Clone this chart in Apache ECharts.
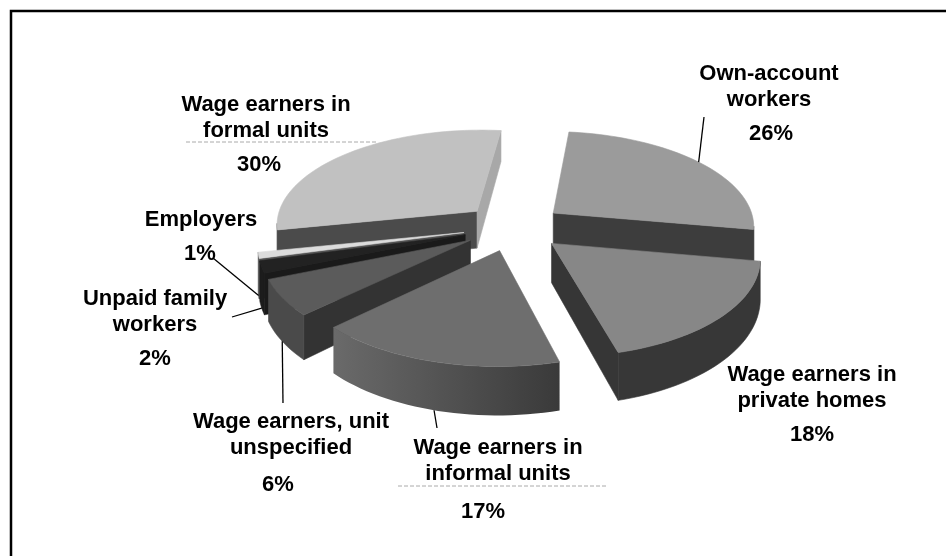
<!DOCTYPE html>
<html>
<head>
<meta charset="utf-8">
<script src="https://cdn.jsdelivr.net/npm/echarts@6/dist/echarts.min.js"></script>
<style>
  html, body { margin: 0; padding: 0; background: #fff; }
  #main { width: 946px; height: 556px; }
</style>
</head>
<body>
<div id="main"></div>
<script>
// data
const categories = ['Own-account workers', 'Wage earners in private homes', 'Wage earners in informal units',
  'Wage earners, unit unspecified', 'Unpaid family workers', 'Employers', 'Wage earners in formal units'];
const shares = [26, 18, 17, 6, 2, 1, 30];
const nameLines = [
  ['Own-account', 'workers'],
  ['Wage earners in', 'private homes'],
  ['Wage earners in', 'informal units'],
  ['Wage earners, unit', 'unspecified'],
  ['Unpaid family', 'workers'],
  ['Employers'],
  ['Wage earners in', 'formal units']
];

// look of the slices (top face, outer side, start cut face, end cut face)
const topColors = ['#9b9b9b', '#878787', '#6e6e6e', '#5b5b5b', '#222222', '#dcdcdc', '#c1c1c1'];
const sideColors = ['#3e3e3e', '#373737',
  { type: 'linear', x: 0, y: 0, x2: 1, y2: 0, colorStops: [{ offset: 0, color: '#6a6a6a' }, { offset: 1, color: '#3a3a3a' }] },
  '#4a4a4a', '#1c1c1c', '#555555', '#4b4b4b'];
const startCutColors = ['#3a3a3a', '#353535', '#555555', '#333333', '#1a1a1a', '#525252', '#4b4b4b'];
const endCutColors = ['#3d3d3d', '#363636', '#555555', '#333333', '#1a1a1a', '#525252', '#a8a8a8'];

// label layout: name centre x, first baseline, pct centre x, pct baseline
const labelPos = [
  [769, 81, 771, 141],
  [812, 382, 812, 442],
  [498, 455, 483, 519],
  [291, 429, 278, 492],
  [155, 306, 155, 366],
  [201, 227, 200, 261],
  [266, 112, 259, 172]
];
// leader line: label end x, y and which rim (0 top, 1 bottom) it points to
const leaders = [[704, 117, 0], null, [437, 428, 1], [283, 403, 1], [232, 317, 1], [213, 258, 1], null];

// 3d pie projection
const CX = 513.5, CY = 227, RX = 202, RY = 95, PERSP = 8, EXPLODE = 0.25, DEPTH = 38, START = 6.5;
const total = shares.reduce((a, b) => a + b, 0);
const cum = [];
let acc = 0;
shares.forEach(v => { cum.push(acc); acc += v; });
const rad = d => d * Math.PI / 180;

function proj(u, v, h) {
  const s = PERSP / (PERSP + v);
  return [CX + RX * u * s, CY - RY * v * s + h * DEPTH * Math.pow(s, 1.5)];
}
function area(pts) {
  let a = 0;
  for (let k = 0; k < pts.length; k++) {
    const p = pts[k], q = pts[(k + 1) % pts.length];
    a += p[0] * q[1] - q[0] * p[1];
  }
  return a / 2;
}
function sliceGeom(i) {
  const a0 = START + 360 * cum[i] / total;
  const a1 = a0 + 360 * shares[i] / total;
  const mid = (a0 + a1) / 2;
  const ou = EXPLODE * Math.sin(rad(mid)), ov = EXPLODE * Math.cos(rad(mid));
  const n = Math.max(2, Math.ceil((a1 - a0) / 2));
  const rim = [];
  for (let k = 0; k <= n; k++) {
    const a = rad(a0 + (a1 - a0) * k / n);
    rim.push([ou + Math.sin(a), ov + Math.cos(a)]);
  }
  return { a0, a1, mid, ou, ov, rim };
}

// far slices first
const drawOrder = shares.map((v, i) => i).sort((a, b) => {
  const ga = sliceGeom(a), gb = sliceGeom(b);
  return (gb.ov + 0.6 * Math.cos(rad(gb.mid))) - (ga.ov + 0.6 * Math.cos(rad(ga.mid)));
});

function poly(points, fill, z2) {
  return {
    type: 'polygon', z2: z2,
    shape: { points: points },
    style: { fill: fill, stroke: typeof fill === 'string' ? fill : null, lineWidth: 0.6, lineJoin: 'round' }
  };
}
const FONT = 'bold 22px "Liberation Sans", Arial, sans-serif';
function txt(str, x, baseline) {
  return {
    type: 'text', z2: 200, x: x, y: baseline - 7,
    style: { text: str, font: FONT, fill: '#000', align: 'center', verticalAlign: 'middle' }
  };
}

function renderItem(params, api) {
  const i = params.dataIndex;
  const g = sliceGeom(i);
  const base = drawOrder.indexOf(i) * 10;
  const children = [];
  const apexT = proj(g.ou, g.ov, 0), apexB = proj(g.ou, g.ov, 1);
  const rimT = g.rim.map(p => proj(p[0], p[1], 0));
  const rimB = g.rim.map(p => proj(p[0], p[1], 1));
  const last = rimT.length - 1;

  const startFace = [apexT, rimT[0], rimB[0], apexB];
  const endFace = [rimT[last], apexT, apexB, rimB[last]];
  if (area(startFace) < 0) children.push(poly(startFace, startCutColors[i], base + 1));
  if (area(endFace) < 0) children.push(poly(endFace, endCutColors[i], base + 1));

  let runStart = -1;
  const flush = (s, e) => {
    const pts = rimT.slice(s, e + 1).concat(rimB.slice(s, e + 1).reverse());
    children.push(poly(pts, sideColors[i], base + 2));
  };
  for (let k = 0; k < last; k++) {
    const vis = area([rimT[k], rimT[k + 1], rimB[k + 1], rimB[k]]) < 0;
    if (vis && runStart < 0) runStart = k;
    if (!vis && runStart >= 0) { flush(runStart, k); runStart = -1; }
  }
  if (runStart >= 0) flush(runStart, last);

  children.push(poly([apexT].concat(rimT), topColors[i], base + 5));

  // labels
  const lp = labelPos[i];
  nameLines[i].forEach((line, k) => children.push(txt(line, lp[0], lp[1] + k * 26)));
  children.push(txt(Math.round(api.value(0) / total * 100) + '%', lp[2], lp[3]));

  const ld = leaders[i];
  if (ld) {
    const end = proj(g.ou + Math.sin(rad(g.mid)), g.ov + Math.cos(rad(g.mid)), ld[2]);
    children.push({
      type: 'line', z2: 150,
      shape: { x1: ld[0], y1: ld[1], x2: end[0], y2: end[1] },
      style: { stroke: '#000', lineWidth: 1.3 }
    });
  }
  return { type: 'group', children: children };
}

const chart = echarts.init(document.getElementById('main'), null, { renderer: 'canvas' });
chart.setOption({
  animation: false,
  backgroundColor: '#fff',
  graphic: [
    { type: 'rect', shape: { x: 11, y: 11, width: 960, height: 580 }, style: { fill: 'none', stroke: '#000', lineWidth: 2.5 } },
    { type: 'line', shape: { x1: 186, y1: 142, x2: 376, y2: 142 }, style: { stroke: '#aaa', lineWidth: 1, lineDash: [4, 2] } },
    { type: 'line', shape: { x1: 398, y1: 486, x2: 606, y2: 486 }, style: { stroke: '#aaa', lineWidth: 1, lineDash: [4, 2] } }
  ],
  series: [{
    type: 'custom',
    name: 'Employment status',
    coordinateSystem: 'none',
    silent: true,
    data: shares.map((v, i) => ({ name: categories[i], value: [v] })),
    renderItem: renderItem
  }]
});
</script>
</body>
</html>
